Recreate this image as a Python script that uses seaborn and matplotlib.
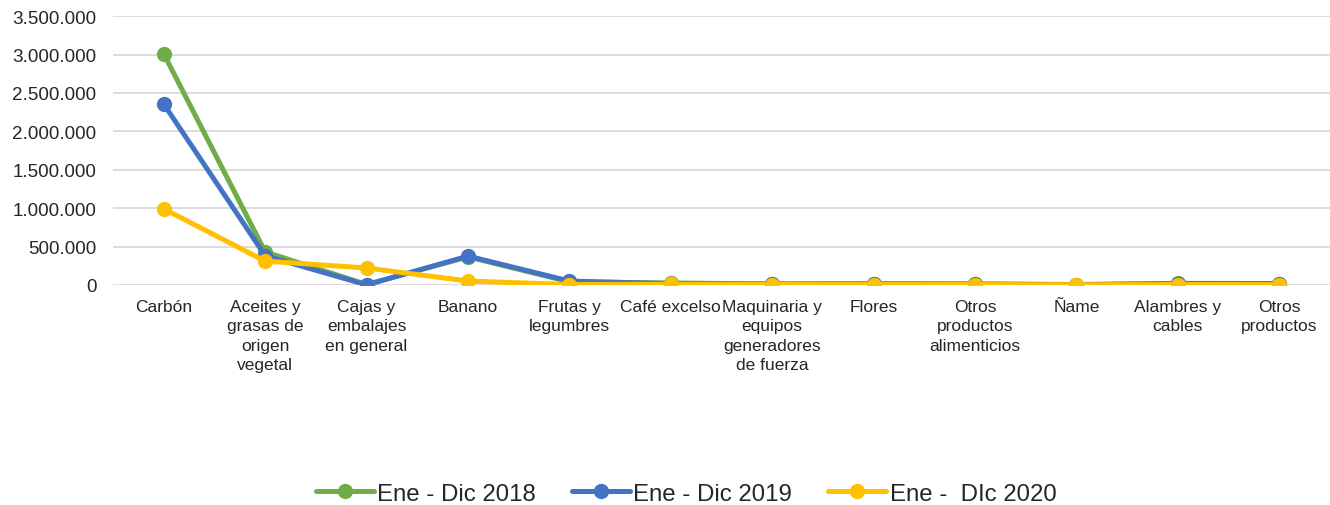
import numpy as np
import pandas as pd
import matplotlib
matplotlib.use('Agg')
import matplotlib.pyplot as plt
import matplotlib.ticker as mticker
import seaborn as sns

# categories, as in the reference (line breaks kept)
categories = ['Carbón', 'Aceites y\ngrasas de\norigen\nvegetal', 'Cajas y\nembalajes\nen general',
			  'Banano', 'Frutas y\nlegumbres', 'Café excelso', 'Maquinaria y\nequipos\ngeneradores\nde fuerza',
			  'Flores', 'Otros\nproductos\nalimenticios', 'Ñame', 'Alambres y\ncables', 'Otros\nproductos']

series_names = ['Ene - Dic 2018', 'Ene - Dic 2019', 'Ene -  DIc 2020']

vals_2018 = [3010000, 430000, 5000, 365000, 40000, 25000, 12000, 15000, 12000, 5000, 20000, 18000]
vals_2019 = [2355000, 380000, 0, 375000, 50000, 15000, 10000, 12000, 10000, 3000, 15000, 15000]
vals_2020 = [990000, 310000, 220000, 50000, 5000, 8000, 5000, 5000, 5000, 2000, 5000, 4000]

colors = ['#70AD47', '#4472C4', '#FFC000']

rows = []
for name, vals in zip(series_names, [vals_2018, vals_2019, vals_2020]):
	for cat, v in zip(categories, vals):
		rows.append({'Producto': cat, 'Valor': v, 'Periodo': name})
df = pd.DataFrame(rows)

sns.set_style('white')
plt.rcParams['font.family'] = ['Liberation Sans', 'DejaVu Sans']
plt.rcParams['text.color'] = '#262626'

fig = plt.figure(figsize=(13.3, 5.06), dpi=100)
ax = fig.add_axes([0.085, 0.435, 0.915, 0.531])

sns.lineplot(data=df, x='Producto', y='Valor', hue='Periodo', palette=colors,
			 marker='o', markersize=11, markeredgewidth=0, linewidth=3.6,
			 sort=False, ax=ax)

ax.set_ylim(0, 3500000)
ax.set_xlim(-0.5, len(categories) - 0.5)
ax.yaxis.set_major_locator(mticker.MultipleLocator(500000))
ax.yaxis.set_major_formatter(mticker.FuncFormatter(lambda v, p: f'{int(v):,}'.replace(',', '.')))
ax.grid(axis='y', color='#D9D9D9', linewidth=1.3)
ax.set_axisbelow(True)
for s in ax.spines.values():
	s.set_visible(False)
ax.set_xlabel('')
ax.set_ylabel('')
ax.tick_params(axis='y', labelsize=13.6, length=0, pad=12, labelcolor='#262626')
ax.tick_params(axis='x', labelsize=12.5, length=0, pad=10, labelcolor='#262626')
for lbl in ax.get_xticklabels():
	lbl.set_linespacing(1.38)
	lbl.set_verticalalignment('top')

ax.get_legend().remove()
handles, labels = ax.get_legend_handles_labels()
leg = fig.legend(handles, labels, loc='center', bbox_to_anchor=(0.516, 0.022), ncol=3,
				 frameon=False, fontsize=17.3, handlelength=2.4, handletextpad=0.15,
				 columnspacing=1.5)
for t in leg.get_texts():
	t.set_color('#262626')

plt.savefig('out.png', dpi=100)
plt.close()
